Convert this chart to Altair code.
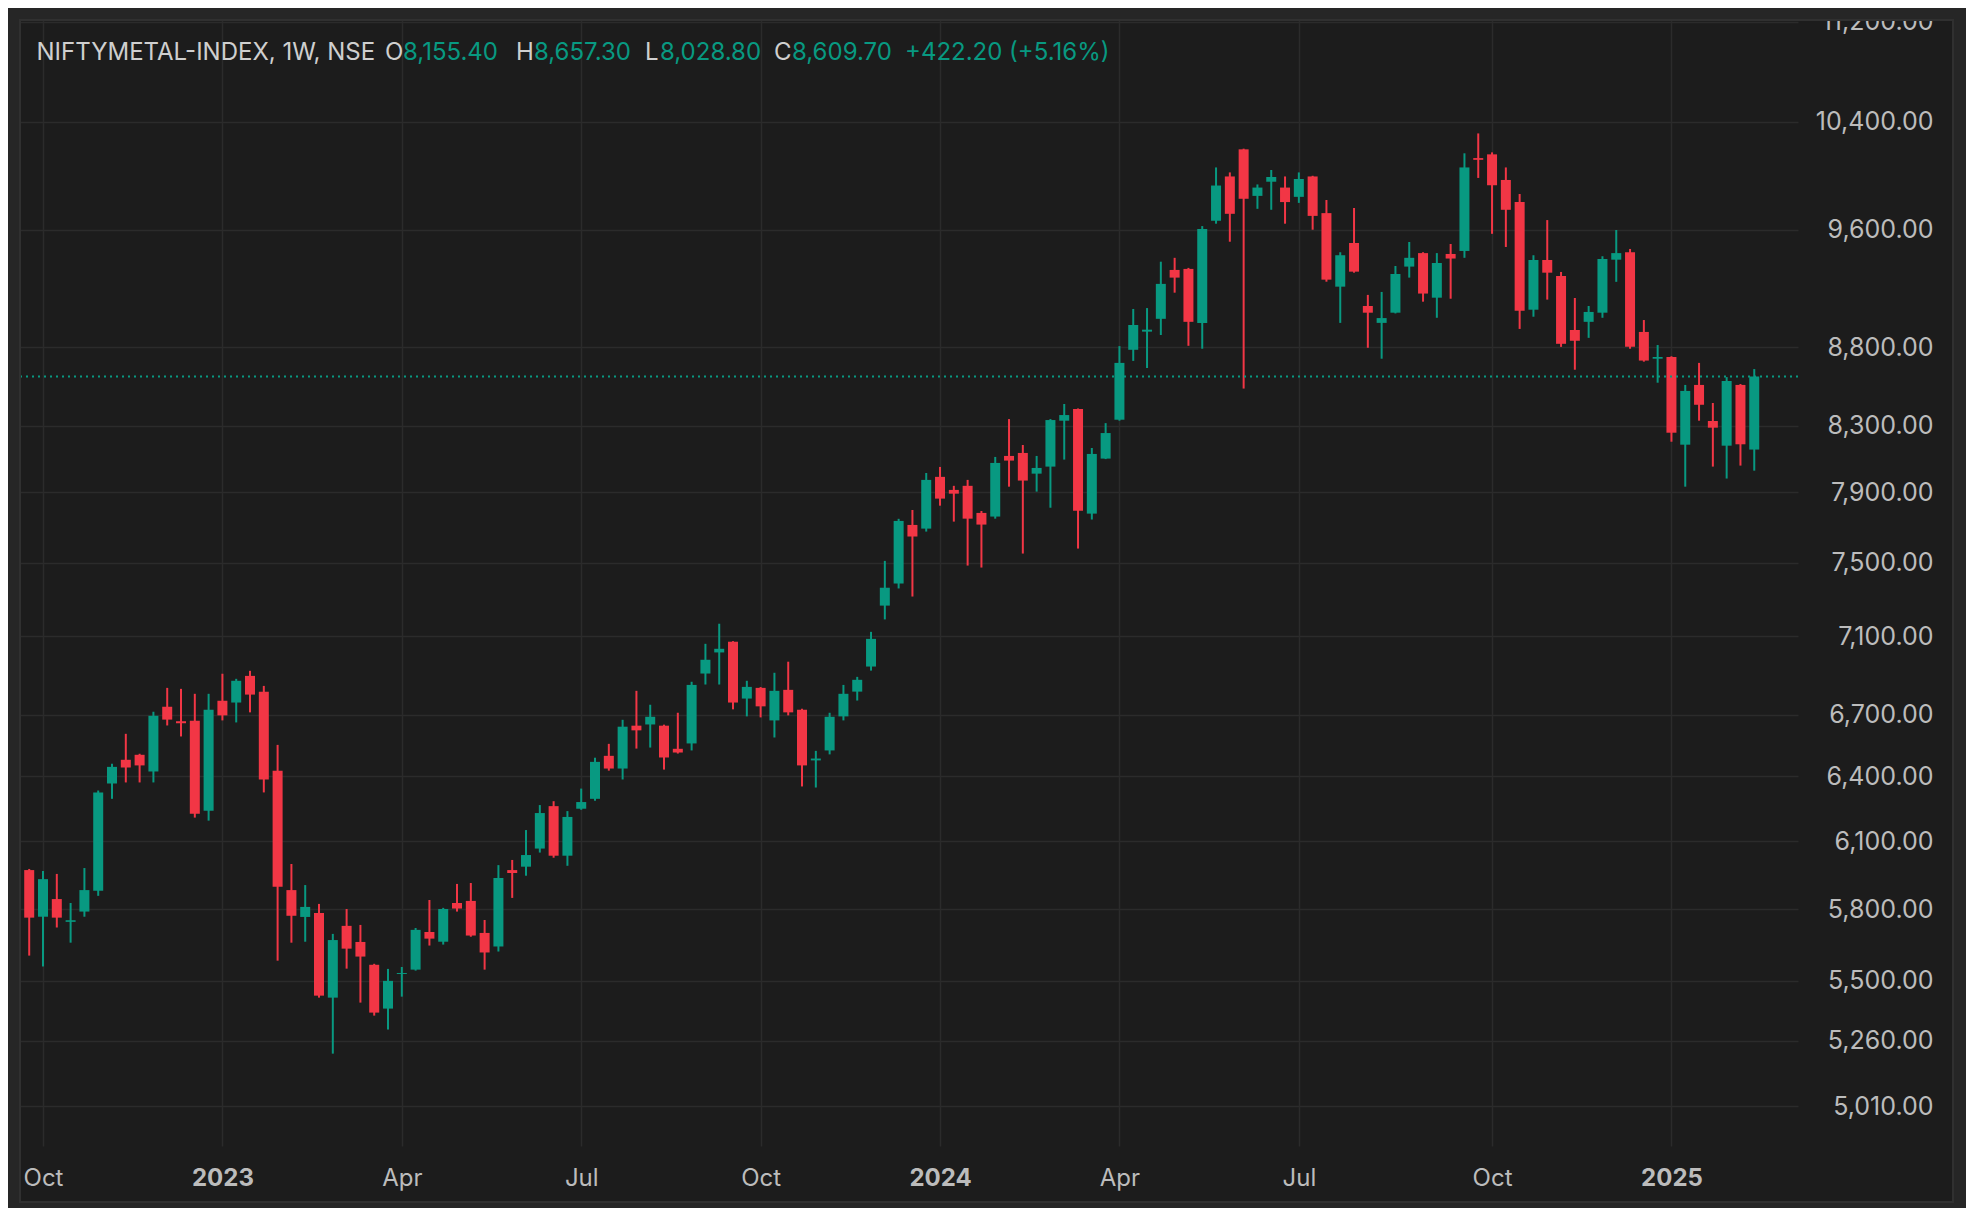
import altair as alt
import pandas as pd

# ---------------- data (weekly candles) ----------------
opens = [5970, 5767, 5843, 5745, 5789, 5879, 6366, 6479, 6503, 6423,
         6739, 6667, 6669, 6239, 6769, 6760, 6895, 6814, 6426, 5882,
         5766, 5783, 5431, 5728, 5660, 5565, 5387, 5527, 5545, 5702,
         5661, 5826, 5835, 5698, 5641, 5970, 5985, 6066, 6260, 6034,
         6248, 6294, 6498, 6437, 6645, 6651, 6645, 6532, 6558, 6907,
         7016, 7072, 6780, 6834, 6671, 6824, 6724, 6476, 6524, 6691,
         6815, 6943, 7264, 7384, 7712, 7691, 7992, 7915, 7939, 7781,
         7760, 8117, 8135, 8011, 8053, 8332, 8404, 7777, 8101, 8338,
         8782, 8901, 8986, 9318, 9325, 8959, 9664, 9987, 10190, 9844,
         9948, 9905, 9837, 9987, 9719, 9203, 9506, 9072, 8959, 9027,
         9341, 9435, 9128, 9429, 9450, 10124, 10152, 9961, 9799, 9047,
         9387, 9276, 8912, 8966, 9027, 9389, 9441, 8899, 8724, 8735,
         8185, 8556, 8330, 8179, 8556, 8155.4]
highs = [5975, 5966, 5953, 5826, 5979, 6333, 6460, 6605, 6508, 6714,
         6834, 6829, 6804, 6804, 6906, 6880, 6921, 6844, 6551, 5997,
         5904, 5822, 5694, 5800, 5732, 5569, 5548, 5556, 5719, 5839,
         5805, 5909, 5913, 5753, 5992, 6015, 6150, 6265, 6283, 6237,
         6342, 6489, 6556, 6674, 6819, 6749, 6650, 6709, 6865, 7061,
         7167, 7075, 6870, 6838, 6911, 6968, 6729, 6522, 6709, 6849,
         6890, 7124, 7509, 7747, 7798, 8015, 8051, 7939, 7974, 7792,
         8111, 8342, 8183, 8117, 8342, 8436, 8408, 8165, 8317, 8806,
         9052, 9058, 9375, 9402, 9332, 9626, 10054, 10017, 10195, 9928,
         10035, 9987, 10017, 9992, 9814, 9441, 9756, 9147, 9167, 9345,
         9513, 9441, 9435, 9499, 10160, 10311, 10167, 10054, 9858, 9420,
         9669, 9304, 9126, 9072, 9413, 9598, 9464, 8978, 8813, 8740,
         8556, 8697, 8442, 8606, 8562, 8657.3]
lows = [5603, 5558, 5721, 5657, 5767, 5857, 6294, 6371, 6371, 6371,
        6646, 6592, 6207, 6193, 6671, 6661, 6711, 6324, 5582, 5657,
        5661, 5431, 5210, 5549, 5411, 5359, 5304, 5435, 5541, 5645,
        5649, 5789, 5682, 5545, 5620, 5848, 5945, 6048, 6025, 5989,
        6243, 6285, 6427, 6385, 6533, 6538, 6432, 6509, 6524, 6851,
        6851, 6726, 6691, 6686, 6587, 6696, 6352, 6347, 6505, 6671,
        6770, 6922, 7190, 7357, 7313, 7674, 7823, 7731, 7483, 7472,
        7748, 7934, 7550, 7905, 7811, 8095, 7578, 7743, 8098, 8332,
        8710, 8664, 8879, 9162, 8808, 8789, 9643, 9515, 8533, 9750,
        9743, 9643, 9793, 9600, 9237, 8959, 9299, 8795, 8724, 9022,
        9265, 9101, 8993, 9121, 9402, 9976, 9571, 9478, 8919, 9000,
        9115, 8801, 8653, 8860, 8993, 9236, 8789, 8705, 8570, 8203,
        7934, 8332, 8053, 7982, 8059, 8028.8]
closes = [5763, 5930, 5763, 5752, 5882, 6324, 6445, 6442, 6452, 6694,
          6675, 6657, 6225, 6724, 6696, 6870, 6800, 6385, 5897, 5771,
          5809, 5439, 5668, 5632, 5599, 5371, 5499, 5531, 5711, 5674,
          5800, 5802, 5687, 5616, 5935, 5957, 6037, 6228, 6034, 6210,
          6279, 6469, 6437, 6640, 6622, 6689, 6490, 6514, 6849, 6978,
          7035, 6760, 6839, 6741, 6819, 6711, 6452, 6485, 6689, 6804,
          6875, 7087, 7361, 7735, 7646, 7974, 7864, 7893, 7748, 7714,
          8075, 8089, 7970, 8045, 8336, 8367, 7794, 8129, 8256, 8697,
          8945, 8914, 9222, 9265, 8966, 9605, 9920, 9714, 9823, 9905,
          9983, 9799, 9968, 9699, 9251, 9420, 9306, 9027, 8991, 9290,
          9402, 9156, 9366, 9397, 10054, 10111, 9922, 9743, 9040, 9387,
          9299, 8821, 8841, 9032, 9394, 9435, 8801, 8712, 8735, 8258,
          8518, 8431, 8289, 8581, 8187.5, 8609.7]

FIRST_WEEK = "2022-09-26"
price_ticks = [5010, 5260, 5500, 5800, 6100, 6400, 6700, 7100, 7500, 7900,
               8300, 8800, 9600, 10400, 11200]
time_ticks = ["2022-10-03", "2023-01-02", "2023-04-03", "2023-07-03", "2023-10-02",
              "2024-01-01", "2024-04-01", "2024-07-01", "2024-10-07", "2025-01-06"]
symbol_text = "NIFTYMETAL-INDEX, 1W, NSE"

# ---------------- style ----------------
UP = "#089981"
DOWN = "#f23645"
BG = "#1c1c1c"
FRAME = "#262626"
GRID = "#2b2b2b"
LABEL = "#bcbcbc"
HEAD = "#cfcfcf"
FONT = "Inter"

DAY = 86400000


def ms(s):
    return int(pd.Timestamp(s).value // 10**6)


weeks = pd.date_range(FIRST_WEEK, periods=len(opens), freq="7D")
df = pd.DataFrame({
    "t": weeks.asi8 // 10**6,
    "open": opens, "high": highs, "low": lows, "close": closes,
})

t0 = ms(FIRST_WEEK)
x_scale = alt.Scale(type="utc", domain=[t0 - 0.667 * 7 * DAY, t0 + 128.17 * 7 * DAY],
                    nice=False, padding=0)
y_scale = alt.Scale(type="log", domain=[4865, 11216], nice=False, zero=False, padding=0)

x_axis = alt.Axis(
    values=[ms(d) for d in time_ticks], title=None,
    labelExpr="utcmonth(datum.value) == 0 ? utcFormat(datum.value, '%Y') : utcFormat(datum.value, '%b')",
    ticks=False, tickSize=0, domain=False, labelPadding=39, labelBaseline="alphabetic",
    labelFont=FONT, labelFontSize=24, labelColor=LABEL,
    labelFontWeight={"condition": {"test": "utcmonth(datum.value) == 0", "value": "bold"}, "value": "normal"},
    labelFlush=False, labelOverlap=False,
    grid=True, gridColor=GRID, gridWidth=1.5,
)
y_axis = alt.Axis(
    orient="right", values=price_ticks, format=",.2f", title=None,
    ticks=False, tickSize=0, domain=False, labelAlign="right", labelPadding=135,
    labelFont=FONT, labelFontSize=25, labelColor=LABEL,
    labelFlush=False, labelOverlap=False,
    grid=True, gridColor=GRID, gridWidth=1.5,
)

candle_color = alt.condition("datum.close >= datum.open", alt.value(UP), alt.value(DOWN))

wicks = alt.Chart(df).mark_rule(strokeWidth=2).encode(
    x=alt.X("t:T", scale=x_scale, axis=x_axis),
    y=alt.Y("low:Q", scale=y_scale, axis=y_axis),
    y2="high:Q",
    color=candle_color,
)
bodies = alt.Chart(df).mark_bar(size=10).encode(
    x=alt.X("t:T", scale=x_scale, axis=x_axis),
    y=alt.Y("open:Q", scale=y_scale, axis=y_axis),
    y2="close:Q",
    color=candle_color,
)
last_line = alt.Chart(pd.DataFrame({"c": [closes[-1]]})).mark_rule(
    color=UP, strokeDash=[2, 4], strokeWidth=2
).encode(y=alt.Y("c:Q", scale=y_scale, axis=y_axis))


def head(text, x, color):
    return alt.Chart(pd.DataFrame({"s": [text]})).mark_text(
        align="left", baseline="middle", font=FONT, fontSize=24, color=color
    ).encode(x=alt.value(x), y=alt.value(33), text="s:N")


chg = closes[-1] - closes[-2]
pct = chg / closes[-2] * 100
header = [
    head(symbol_text, 16.5, HEAD),
    head("O", 365, HEAD), head(f"{opens[-1]:,.2f}", 383, UP),
    head("H", 496, HEAD), head(f"{highs[-1]:,.2f}", 514, UP),
    head("L", 625, HEAD), head(f"{lows[-1]:,.2f}", 640, UP),
    head("C", 754, HEAD), head(f"{closes[-1]:,.2f}", 772, UP),
    head(f"{chg:+,.2f} ({pct:+.2f}%)", 885, UP),
]

one = pd.DataFrame({"k": [0]})
frame = alt.Chart(one).mark_rect(fillOpacity=0, stroke=FRAME, strokeWidth=44).encode(
    x=alt.value(-22), x2=alt.value(1955), y=alt.value(-22), y2=alt.value(1204)
)
border = alt.Chart(one).mark_rect(fillOpacity=0, stroke="#303030", strokeWidth=2).encode(
    x=alt.value(0), x2=alt.value(1933), y=alt.value(0), y2=alt.value(1182)
)

chart = alt.layer(wicks, bodies, last_line, *header, frame, border).properties(
    width=1778, height=1126,
    padding={"left": 12, "top": 12, "right": 168, "bottom": 62},
    autosize=alt.AutoSizeParams(type="none"),
    background=BG,
).configure_view(strokeWidth=0)

chart.save("out.html", embed_options={"renderer": "svg", "actions": False})
